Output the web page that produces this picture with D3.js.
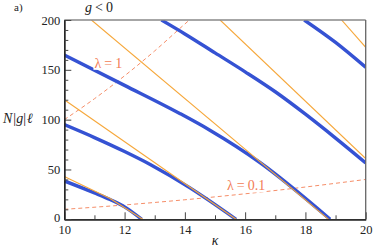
<!DOCTYPE html>
<html>
<head>
<meta charset="utf-8">
<script src="https://cdn.jsdelivr.net/npm/d3@7"></script>
<style>
  body { margin: 0; background: #fff; }
  svg { display: block; }
  svg text { font-family: "Liberation Serif" !important; }
</style>
</head>
<body>
<svg id="chart" width="374" height="248"></svg>
<script>
// exact curves (thick blue) as [kappa, N|g|l]
const blueCurves = [
  [[10, 38.5], [11, 26.5], [11.52, 19.8], [12, 12.5], [12.57, 0]],
  [[10, 95], [11, 82], [12, 68], [12.85, 55], [14.17, 31.5], [14.7, 21], [15.7, 0]],
  [[10, 164.8], [12, 134.4], [13.83, 106.2], [14.83, 89.4], [16.49, 57], [18.82, 0]],
  [[13.22, 200], [14, 186], [15, 167], [16, 148], [17, 128], [18, 105.5], [19, 81.5], [20, 56.6]],
  [[17.96, 200], [19, 177.5], [20, 152.5]]
];

// approximations (thin orange)
const orangeLines = [
  [[10, 43], [11.52, 20.8], [12.6, 0]],
  [[10, 120], [15.7, 0]],
  [[10.9, 200], [18.77, 0]],
  [[15.17, 200], [20, 61]],
  [[19.2, 200], [20, 172.6]]
];

// constant lambda (dashed)
const lambda1 = [[10, 100], [11, 121], [12, 144], [13, 169], [14, 196], [14.15, 200]];
const lambda01 = [[10, 10], [12, 14.4], [14, 19.6], [16, 25.6], [18, 32.4], [20, 40]];

const xTicks = [10, 12, 14, 16, 18, 20];
const yTicks = [0, 50, 100, 150, 200];

const FONT = 'Liberation Serif';

const svg = d3.select('#chart');
const m = {left: 64.3, right: 365.7, top: 20, bottom: 219.3};

const x = d3.scaleLinear().domain([10, 20]).range([m.left, m.right]);
const y = d3.scaleLinear().domain([0, 200]).range([m.bottom, m.top]);

svg.append('defs').append('clipPath').attr('id', 'clip')
  .append('rect')
  .attr('x', m.left).attr('y', m.top)
  .attr('width', m.right - m.left).attr('height', m.bottom - m.top);

const line = d3.line().x(d => x(d[0])).y(d => y(d[1]));
const smooth = d3.line().x(d => x(d[0])).y(d => y(d[1])).curve(d3.curveMonotoneX);

const plot = svg.append('g').attr('clip-path', 'url(#clip)');

plot.selectAll('.lam')
  .data([lambda1, lambda01])
  .enter().append('path')
  .attr('d', smooth)
  .attr('fill', 'none')
  .attr('stroke', '#f58d68')
  .attr('stroke-width', 1)
  .attr('stroke-dasharray', '4,3');

plot.selectAll('.blue')
  .data(blueCurves)
  .enter().append('path')
  .attr('d', smooth)
  .attr('fill', 'none')
  .attr('stroke', '#3552d3')
  .attr('stroke-width', 3.4);

plot.selectAll('.orange')
  .data(orangeLines)
  .enter().append('path')
  .attr('d', line)
  .attr('fill', 'none')
  .attr('stroke', '#f6a73a')
  .attr('stroke-width', 1.1);

// labels on the dashed lines
const lab = [
  {k: 11.0, v: 152, t: '1'},
  {k: 15.4, v: 29, t: '0.1'}
];
lab.forEach(l => {
  const g = svg.append('g');
  const txt = g.append('text')
    .attr('x', x(l.k)).attr('y', y(l.v))
    .style('font-family', FONT)
    .attr('font-size', 14)
    .attr('fill', '#f27c55');
  txt.append('tspan').text('λ');
  txt.append('tspan').attr('dx', 3).text('=');
  txt.append('tspan').attr('dx', 3).text(l.t);
  const b = txt.node().getBBox();
  g.insert('rect', 'text')
    .attr('x', b.x - 1).attr('y', b.y + 2)
    .attr('width', b.width + 2).attr('height', b.height - 3)
    .attr('fill', '#fff');
});

// frame: top/right grey, axes dark
svg.append('line')
  .attr('x1', m.left).attr('x2', m.right).attr('y1', m.top).attr('y2', m.top)
  .attr('stroke', '#888').attr('stroke-width', 1.5);
svg.append('line')
  .attr('x1', m.right).attr('x2', m.right).attr('y1', m.top).attr('y2', m.bottom)
  .attr('stroke', '#666').attr('stroke-width', 1.3);

const xAxis = svg.append('g').attr('transform', `translate(0,${m.bottom})`)
  .call(d3.axisBottom(x).tickValues(xTicks).tickSizeInner(-7).tickSizeOuter(0).tickPadding(6));
const xMinor = svg.append('g').attr('transform', `translate(0,${m.bottom})`)
  .call(d3.axisBottom(x).tickValues([11, 13, 15, 17, 19]).tickSizeInner(-4).tickSizeOuter(0).tickFormat(''));

const yAxis = svg.append('g').attr('transform', `translate(${m.left},0)`)
  .call(d3.axisLeft(y).tickValues(yTicks).tickSizeInner(-7).tickSizeOuter(0).tickPadding(4));
const yMinor = svg.append('g').attr('transform', `translate(${m.left},0)`)
  .call(d3.axisLeft(y).tickValues(d3.range(10, 200, 10).filter(v => v % 50 != 0))
    .tickSizeInner(-4).tickSizeOuter(0).tickFormat(''));

[xAxis, xMinor, yAxis, yMinor].forEach(a => {
  a.attr('font-family', null);
  a.select('.domain').attr('stroke', '#222').attr('stroke-width', 1.3);
  a.selectAll('.tick line').attr('stroke', '#444').attr('stroke-width', 1);
  a.selectAll('.tick text')
    .style('font-family', FONT)
    .attr('font-size', 12.5)
    .attr('fill', '#222');
});
// the zero label sits a little high, as in the original, to clear the x labels
yAxis.selectAll('.tick text').filter(d => d === 0).attr('dy', '0.2em');

// titles
svg.append('text').attr('x', 14).attr('y', 11)
  .style('font-family', FONT)
  .attr('font-size', 11).attr('fill', '#222').text('a)');

const gt = svg.append('text').attr('x', 85).attr('y', 12)
  .style('font-family', FONT)
  .attr('font-size', 14).attr('fill', '#222');
gt.append('tspan').attr('font-style', 'italic').text('g');
gt.append('tspan').attr('dx', 3).text('<');
gt.append('tspan').attr('dx', 3).text('0');

const yl = svg.append('text').attr('x', 3).attr('y', 123)
  .style('font-family', FONT)
  .attr('font-size', 14).attr('fill', '#222').attr('font-style', 'italic');
yl.append('tspan').text('N');
yl.append('tspan').attr('font-style', 'normal').attr('dx', 1).text('|');
yl.append('tspan').text('g');
yl.append('tspan').attr('font-style', 'normal').text('|');
yl.append('tspan').attr('dx', 1).text('ℓ');

svg.append('text').attr('x', 215).attr('y', 245)
  .style('font-family', FONT)
  .attr('font-size', 14).attr('font-style', 'italic').attr('fill', '#222')
  .attr('text-anchor', 'middle').text('κ');
</script>
</body>
</html>
